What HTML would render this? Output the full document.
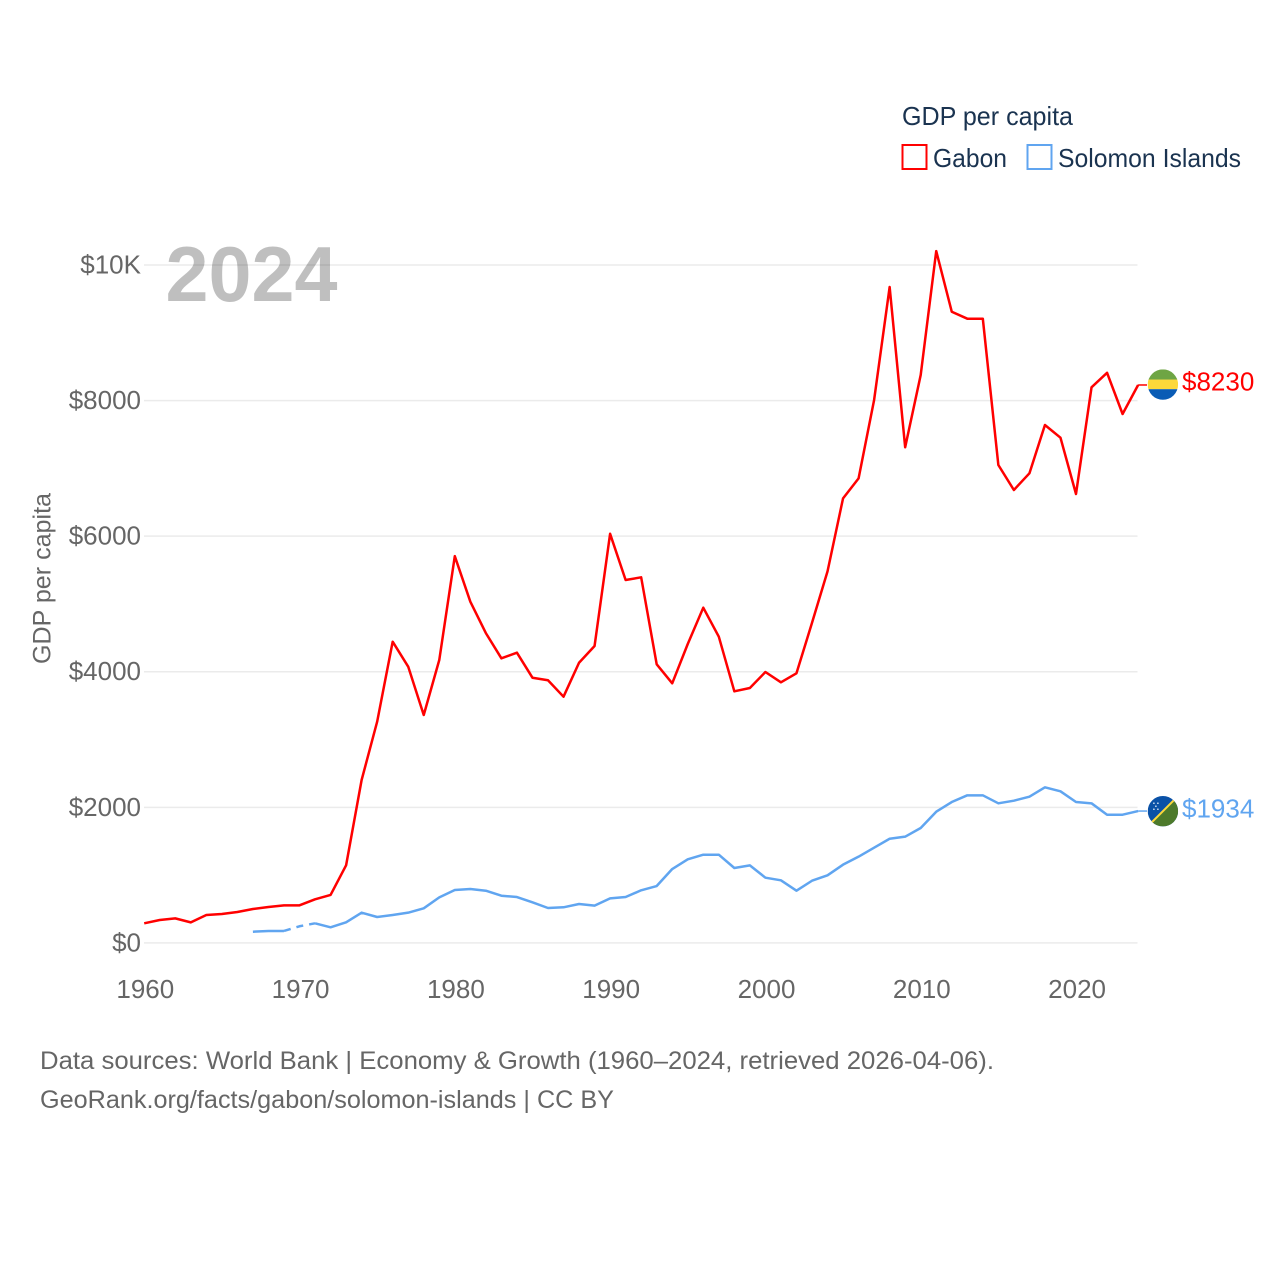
<!DOCTYPE html>
<html lang="en">
<head>
<meta charset="utf-8">
<title>GDP per capita: Gabon and Solomon Islands</title>
<style>
html,body{margin:0;padding:0;background:#fff;}
svg{display:block;font-family:"Liberation Sans",sans-serif;}
</style>
</head>
<body>
<svg id="chart" width="1280" height="1280" viewBox="0 0 1280 1280" xmlns="http://www.w3.org/2000/svg">
  <rect x="0" y="0" width="1280" height="1280" fill="#ffffff"/>
  <g id="grid"></g>
  <text x="165.5" y="301" font-size="78" font-weight="700" fill="#000" fill-opacity="0.25" textLength="172" lengthAdjust="spacingAndGlyphs">2024</text>
  <g id="y-ticks"></g>
  <g id="x-ticks"></g>
  <text transform="translate(50.5,664) rotate(-90)" font-size="25" fill="#666666" textLength="171" lengthAdjust="spacingAndGlyphs">GDP per capita</text>
  <g id="series"></g>
  <g id="ends"></g>

  <g>
    <text x="902" y="125" font-size="26" fill="#1a3350" textLength="171" lengthAdjust="spacingAndGlyphs">GDP per capita</text>
    <rect x="902.5" y="145" width="24" height="24" fill="none" stroke="#ff0000" stroke-width="2"/>
    <text x="933" y="167" font-size="26" fill="#1a3350" textLength="74" lengthAdjust="spacingAndGlyphs">Gabon</text>
    <rect x="1027.5" y="145" width="24" height="24" fill="none" stroke="#60a5f0" stroke-width="2"/>
    <text x="1058" y="167" font-size="26" fill="#1a3350" textLength="183" lengthAdjust="spacingAndGlyphs">Solomon Islands</text>
  </g>

  <text x="40" y="1069" font-size="25" fill="#666666" textLength="954" lengthAdjust="spacingAndGlyphs">Data sources: World Bank | Economy &amp; Growth (1960–2024, retrieved 2026-04-06).</text>
  <text x="40" y="1108" font-size="25" fill="#666666" textLength="574" lengthAdjust="spacingAndGlyphs">GeoRank.org/facts/gabon/solomon-islands | CC BY</text>
</svg>
<script>
const gabonStartYear = 1960;
const gabonValues = [289,338,362,303,411,426,456,500,530,554,554,643,707,1144,2403,3263,4443,4075,3362,4173,5705,5033,4570,4198,4281,3912,3874,3632,4133,4380,6035,5353,5393,4110,3829,4409,4945,4517,3711,3760,3996,3844,3977,4720,5480,6558,6853,8009,9675,7311,8377,10205,9311,9208,9208,7050,6681,6927,7640,7453,6622,8196,8410,7802,8230];
const solomonStartYear = 1967;
const solomonValues = [165,176,176,245,289,230,304,446,382,412,446,510,672,780,795,770,696,677,598,515,525,574,549,657,677,776,839,1090,1233,1301,1301,1105,1144,962,923,770,917,997,1154,1272,1404,1537,1567,1695,1935,2078,2177,2177,2059,2098,2157,2295,2236,2078,2059,1891,1891,1945];
const solomonDashedYears = [1969,1970,1971];
const yTickValues = [0,2000,4000,6000,8000,10000];
const yTickLabels = ["$0","$2000","$4000","$6000","$8000","$10K"];
const xTickYears = [1960,1970,1980,1990,2000,2010,2020];
const endLabels = ["$8230","$1934"];
const endValues = [8230,1934];

const NS = "http://www.w3.org/2000/svg";
function xScale(year){ return 144.2 + (year - 1960) * 15.53; }
function yScale(v){ return 942.9 - v * 0.06779; }
function make(tag, attrs, parent){
  const el = document.createElementNS(NS, tag);
  for (const k in attrs) el.setAttribute(k, attrs[k]);
  parent.appendChild(el);
  return el;
}
function pts(start, values, from, to){
  const out = [];
  values.forEach(function(v, i){
    const yr = start + i;
    if (yr >= from && yr <= to) out.push(xScale(yr).toFixed(2) + "," + yScale(v).toFixed(2));
  });
  return out.join(" ");
}

const gridG = document.getElementById("grid");
const yG = document.getElementById("y-ticks");
yTickValues.forEach(function(v, i){
  const ln = make("line", {x1:144, x2:1137.5, y1:yScale(v), y2:yScale(v), stroke:"#ebebeb", "stroke-width":1.5}, gridG);
  
  
  const t = make("text", {x:141, y:yScale(v)+8.5, "text-anchor":"end", "font-size":26, fill:"#666666"}, yG);
  
  
  t.textContent = yTickLabels[i];
});

const xG = document.getElementById("x-ticks");
xTickYears.forEach(function(yr){
  const t = make("text", {x:xScale(yr)+1.1, y:998, "text-anchor":"middle", "font-size":26, fill:"#666666"}, xG);
  
  
  t.textContent = yr;
});

const sG = document.getElementById("series");
const lineBase = {fill:"none", "stroke-width":2.5, "stroke-linejoin":"round"};

const dashStart = solomonDashedYears[0];
const dashEnd = solomonDashedYears[solomonDashedYears.length-1];
const solomonColor = "#60a5f0";
const lastSol = solomonStartYear + solomonValues.length - 1;

const sol1 = make("polyline", Object.assign({points:pts(solomonStartYear, solomonValues, solomonStartYear, dashStart), stroke:solomonColor}, lineBase), sG);


const sol2 = make("polyline", Object.assign({points:pts(solomonStartYear, solomonValues, dashStart, dashEnd), stroke:solomonColor, "stroke-dasharray":"7 6"}, lineBase), sG);


const sol3 = make("polyline", Object.assign({points:pts(solomonStartYear, solomonValues, dashEnd, lastSol), stroke:solomonColor}, lineBase), sG);



const gab = make("polyline", Object.assign({points:pts(gabonStartYear, gabonValues, 1960, 2024), stroke:"#ff0000"}, lineBase), sG);



const eG = document.getElementById("ends");
const endColors = ["#ff0000", solomonColor];
const lastY = [gabonValues[gabonValues.length-1], solomonValues[solomonValues.length-1]];
endValues.forEach(function(v, i){
  const c = make("line", {x1:xScale(2024), x2:1147, y1:yScale(lastY[i]), y2:yScale(lastY[i]), stroke:endColors[i], "stroke-width":1.5}, eG);
  
  
  const t = make("text", {x:1182, y:yScale(v)+5.6, "font-size":26, fill:endColors[i]}, eG);
  
  
  t.textContent = endLabels[i];
});

/* flags */
const fx = 1162.9, r = 15.2;
const gy = yScale(endValues[0]) - 0.4;
const defs = make("defs", {}, eG);
const cp1 = make("clipPath", {id:"clip-gabon"}, defs);
make("circle", {cx:fx, cy:gy, r:r}, cp1);
const cp2 = make("clipPath", {id:"clip-solomon"}, defs);
const sy = yScale(endValues[1]) - 0.6;
make("circle", {cx:fx, cy:sy, r:r}, cp2);

const fg = make("g", {"clip-path":"url(#clip-gabon)"}, eG);


make("rect", {x:fx-r, y:gy-r, width:2*r, height:10.4, fill:"#6ea544"}, fg);
make("rect", {x:fx-r, y:gy-r+10.2, width:2*r, height:9.6, fill:"#fcd83a"}, fg);
make("rect", {x:fx-r, y:gy-r+19.8, width:2*r, height:10.8, fill:"#0a5cb5"}, fg);

const fs = make("g", {"clip-path":"url(#clip-solomon)"}, eG);


make("rect", {x:fx-r, y:sy-r, width:2*r, height:2*r, fill:"#0a51a7"}, fs);
make("polygon", {points:[(fx+r)+","+(sy-r), (fx+r)+","+(sy+r), (fx-r)+","+(sy+r)].join(" "), fill:"#4d7a2b"}, fs);
make("line", {x1:fx-r, y1:sy+r, x2:fx+r, y2:sy-r, stroke:"#fcd83a", "stroke-width":2}, fs);
[[-9,-8],[-5,-8],[-7,-5],[-9,-2],[-5,-2]].forEach(function(p){
  make("circle", {cx:fx+p[0], cy:sy+p[1], r:0.8, fill:"#dfe9f7"}, fs);
});
</script>
</body>
</html>
